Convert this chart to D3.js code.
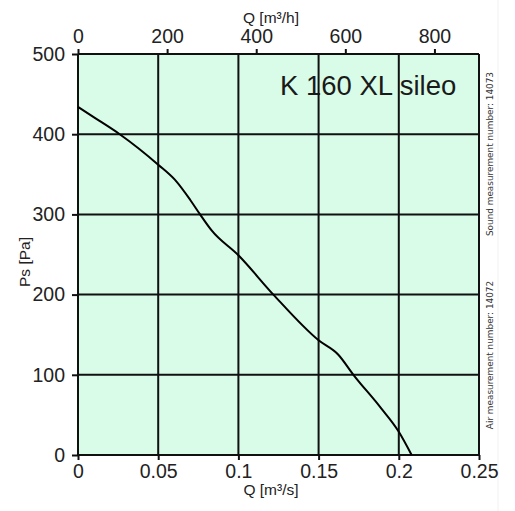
<!DOCTYPE html>
<html><head><meta charset="utf-8">
<script src="https://cdn.jsdelivr.net/npm/d3@7"></script>
<style>body{margin:0;background:#fff}</style>
</head><body>
<svg id="c" width="515" height="511"></svg>
<script>
const flowM3s = [0, 0.01, 0.026, 0.05, 0.0605, 0.07, 0.0761, 0.0833, 0.1, 0.1218, 0.15, 0.1623, 0.1717, 0.1883, 0.2, 0.208];
const pressurePa = [434, 421, 400, 362, 343, 318, 300, 280, 249, 200, 143, 125, 100, 60, 29, 0];
const bottomTicks = [0, 0.05, 0.1, 0.15, 0.2, 0.25];
const topTicks = [0, 200, 400, 600, 800];
const leftTicks = [0, 100, 200, 300, 400, 500];
const title = "K 160 XL sileo";
const noteSound = "Sound measurement number: 14073";
const noteAir = "Air measurement number: 14072";

const svg = d3.select("#c");
const L = 78, R = 479, T = 54, B = 455;
const x = d3.scaleLinear().domain([0, 0.25]).range([L, R]);
const xh = d3.scaleLinear().domain([0, 900]).range([L, R]);
const y = d3.scaleLinear().domain([0, 500]).range([B, T]);
const font = "Liberation Sans, Arial, sans-serif";

svg.append("line").attr("x1", 498).attr("x2", 498).attr("y1", 0).attr("y2", 511).attr("stroke", "#f1f1f1").attr("stroke-width", 1);
svg.append("rect").attr("x", L).attr("y", T).attr("width", R - L).attr("height", B - T).attr("fill", "#d9fce8");

svg.append("text").attr("x", 280).attr("y", 95).attr("text-anchor", "start").attr("font-family", font).attr("font-size", 27.5).attr("fill", "#1a1a1a").text(title);

const g = svg.append("g");
bottomTicks.forEach(v => g.append("line").attr("x1", x(v)).attr("x2", x(v)).attr("y1", T).attr("y2", B).attr("stroke", "#111").attr("stroke-width", 2));
leftTicks.forEach(v => g.append("line").attr("x1", L).attr("x2", R).attr("y1", y(v)).attr("y2", y(v)).attr("stroke", "#111").attr("stroke-width", 2));

const line = d3.line().x((d, i) => x(flowM3s[i])).y(d => y(d)).curve(d3.curveMonotoneX);
svg.append("path").attr("d", line(pressurePa)).attr("fill", "none").attr("stroke", "#000").attr("stroke-width", 2);

const styleAxis = (sel) => {
  sel.select(".domain").remove();
  sel.selectAll("line").attr("stroke", "#111").attr("stroke-width", 2);
  sel.selectAll("text").attr("font-family", font).attr("font-size", 19.5).attr("fill", "#222");
};
svg.append("g").attr("transform", `translate(0,${B})`)
  .call(d3.axisBottom(x).tickValues(bottomTicks).tickFormat(d => String(d)).tickSize(5).tickPadding(4))
  .call(styleAxis);
svg.append("g").attr("transform", `translate(0,${T})`)
  .call(d3.axisTop(xh).tickValues(topTicks).tickFormat(d => String(d)).tickSize(5).tickPadding(6))
  .call(styleAxis);
svg.append("g").attr("transform", `translate(${L},0)`)
  .call(d3.axisLeft(y).tickValues(leftTicks).tickFormat(d => String(d)).tickSize(6).tickPadding(7))
  .call(styleAxis);

svg.append("text").attr("x", 271).attr("y", 495).attr("text-anchor", "middle").attr("font-family", font).attr("font-size", 15.5).attr("fill", "#222").text("Q [m³/s]");
svg.append("text").attr("x", 271).attr("y", 23).attr("text-anchor", "middle").attr("font-family", font).attr("font-size", 15.5).attr("fill", "#222").text("Q [m³/h]");
svg.append("text").attr("transform", `translate(30,262) rotate(-90)`).attr("text-anchor", "middle").attr("font-family", font).attr("font-size", 15.5).attr("fill", "#222").text("Ps [Pa]");

svg.append("text").attr("transform", `translate(492.5,154) rotate(-90)`).attr("text-anchor", "middle").attr("font-family", "DejaVu Sans, sans-serif").attr("font-size", 8.9).attr("fill", "#333").text(noteSound);
svg.append("text").attr("transform", `translate(492.5,355) rotate(-90)`).attr("text-anchor", "middle").attr("font-family", "DejaVu Sans, sans-serif").attr("font-size", 8.9).attr("fill", "#333").text(noteAir);
</script>
</body></html>
